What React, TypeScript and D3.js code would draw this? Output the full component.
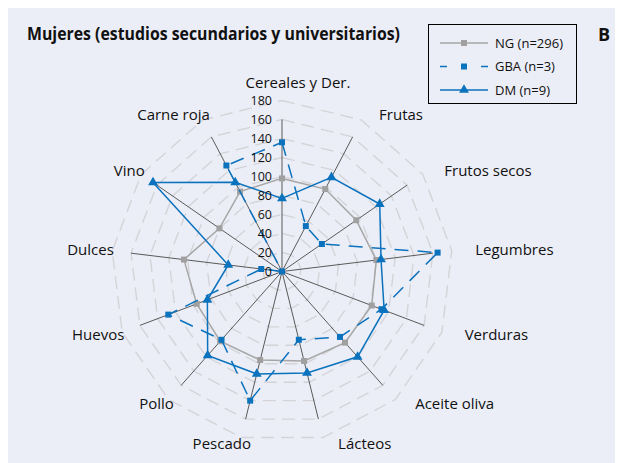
import React from 'react';
import * as d3 from 'd3';

const categories = [
  'Cereales y Der.', 'Frutas', 'Frutos secos', 'Legumbres', 'Verduras', 'Aceite oliva',
  'Lácteos', 'Pescado', 'Pollo', 'Huevos', 'Dulces', 'Vino', 'Carne roja',
];
const ngValues = [98, 98, 95, 100, 101, 100, 97, 96, 98, 96, 104, 80, 95];
const gbaValues = [136, 54, 51, 165, 112, 92, 74, 140, 96, 128, 22, 0, 126];
const dmValues = [77, 112, 125, 105, 115, 120, 110, 111, 118, 84, 57, 165, 106];
const tickValues = [0, 20, 40, 60, 80, 100, 120, 140, 160, 180];
const seriesNames = ['NG (n=296)', 'GBA (n=3)', 'DM (n=9)'];

const BLUE = '#0b72bd';
const GRAY = '#a6a6a6';
const FONT = '"Open Sans", "Noto Sans", sans-serif';

export default function App() {
  const cx = 282;
  const cy = 271.5;
  const n = categories.length;
  const r = d3.scaleLinear().domain([0, 180]).range([0, 171]);
  const angle = (i: number) => (i * 2 * Math.PI) / n;
  const pt = (i: number, v: number): [number, number] => [
    Math.sin(angle(i)) * r(v),
    -Math.cos(angle(i)) * r(v),
  ];

  const radial = d3
    .lineRadial<number>()
    .angle((_, i) => angle(i))
    .radius((d) => r(d))
    .curve(d3.curveLinearClosed);

  const gridLine = (v: number) => radial(categories.map(() => v)) || '';

  const square = d3.symbol(d3.symbolSquare, 36)() || '';
  const triangle = d3.symbol(d3.symbolTriangle, 42)() || '';

  const series = [
    { name: seriesNames[0], values: ngValues, color: GRAY, dash: undefined, marker: square, mcolor: '#a0a0a0' },
    { name: seriesNames[1], values: gbaValues, color: BLUE, dash: '14,9', marker: square, mcolor: BLUE },
    { name: seriesNames[2], values: dmValues, color: BLUE, dash: undefined, marker: triangle, mcolor: BLUE },
  ];

  const labelPos = (i: number) => {
    const s = Math.sin(angle(i));
    const c = Math.cos(angle(i));
    const mid = Math.abs(s) < 0.15;
    return {
      x: cx + 182 * s + (mid ? 16 : 12.5),
      y: cy - 177 * c - (mid ? 12 * c : 0),
      anchor: mid ? 'middle' : s > 0 ? 'start' : 'end',
    };
  };

  return (
    <svg width={615} height={455} style={{ display: 'block' }}>
      <g transform="translate(-8,-8)">
        <rect x={8} y={8} width={615} height={455} fill="#eceef7" />
        <text x={27} y={40} fontFamily={FONT} fontWeight="bold" fontSize={17.5} fill="#111"
          textLength={373} lengthAdjust="spacingAndGlyphs">
          Mujeres (estudios secundarios y universitarios)
        </text>
        <text x={598} y={41} fontFamily={FONT} fontWeight="bold" fontSize={18} fill="#111">B</text>

        <g transform={`translate(${cx},${cy})`}>
          {tickValues.slice(1).map((v) => (
            <path key={v} d={gridLine(v)} fill="none" stroke="#d4d4d8" strokeWidth={1.4}
              strokeDasharray="13,7" />
          ))}
          {categories.map((c, i) => {
            const [x, y] = pt(i, 160);
            return <line key={c} x1={0} y1={0} x2={x} y2={y} stroke="#5a5a5a" strokeWidth={1} />;
          })}
          {series.map((s) => (
            <g key={s.name}>
              <path d={radial(s.values) || ''} fill="none" stroke={s.color} strokeWidth={1.5}
                strokeDasharray={s.dash} />
              {s.values.map((v, i) => {
                const [x, y] = pt(i, v);
                return <path key={i} d={s.marker} transform={`translate(${x},${y})`} fill={s.mcolor} />;
              })}
            </g>
          ))}
        </g>

        {tickValues.map((v) => (
          <text key={v} x={272} y={cy - r(v)} dy="0.35em" textAnchor="end" fontFamily={FONT}
            fontSize={12.5} fill="#111">
            {v}
          </text>
        ))}

        {categories.map((c, i) => {
          const p = labelPos(i);
          return (
            <text key={c} x={p.x} y={p.y} dy="0.35em" textAnchor={p.anchor} fontFamily={FONT}
              fontSize={15} fill="#111">
              {c}
            </text>
          );
        })}

        <rect x={428.5} y={24.5} width={148} height={79} fill="none" stroke="#000" strokeWidth={1} />
        {series.map((s, k) => {
          const y = 43 + k * 23.5;
          return (
            <g key={s.name}>
              {s.dash ? (
                <g>
                  <line x1={440} x2={447} y1={y} y2={y} stroke={s.color} strokeWidth={1.5} />
                  <line x1={481} x2={488} y1={y} y2={y} stroke={s.color} strokeWidth={1.5} />
                </g>
              ) : (
                <line x1={440} x2={488} y1={y} y2={y} stroke={s.color} strokeWidth={1.5} />
              )}
              <path d={s.marker} transform={`translate(464,${y})`} fill={s.mcolor} />
              <text x={495} y={y} dy="0.35em" fontFamily={FONT} fontSize={13} fill="#111">{s.name}</text>
            </g>
          );
        })}
      </g>
    </svg>
  );
}
